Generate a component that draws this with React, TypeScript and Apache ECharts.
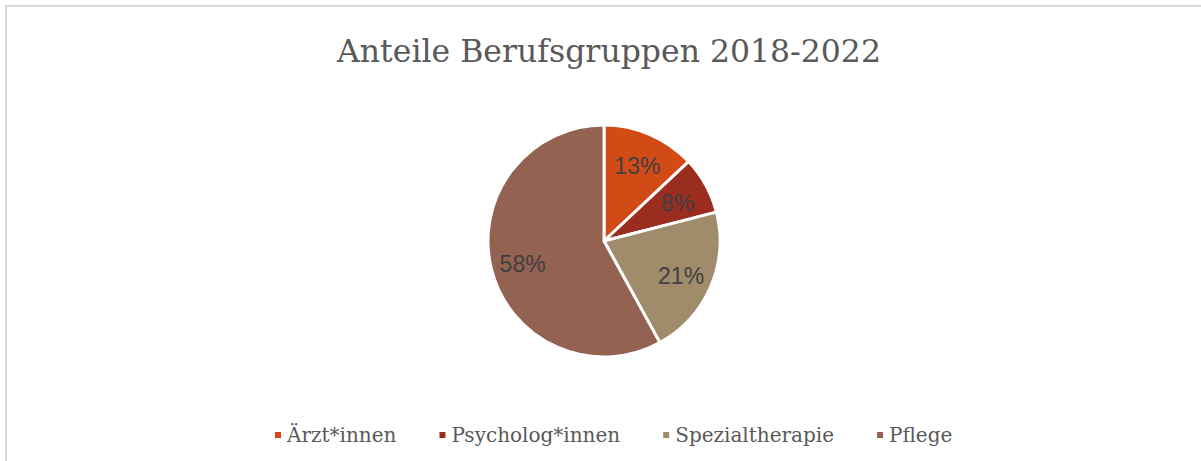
import React, { useEffect, useRef } from "react";
import * as echarts from "echarts";

const categories = ["Ärzt*innen", "Psycholog*innen", "Spezialtherapie", "Pflege"];
const shares = [13, 8, 21, 58];
const colors = ["#D24B17", "#9B2D1F", "#A08B6A", "#946250"];
const titleText = "Anteile Berufsgruppen 2018-2022";

export default function App() {
  const ref = useRef<HTMLDivElement>(null);
  useEffect(() => {
    if (!ref.current) return;
    const chart = echarts.init(ref.current, null, { renderer: "svg" });
    const data = categories.map((name, i) => ({ name, value: shares[i] }));
    chart.setOption({
      animation: false,
      backgroundColor: "#ffffff",
      color: colors,
      title: {
        text: titleText,
        left: 604,
        textAlign: "center",
        top: 30,
        textStyle: {
          fontFamily: "DejaVu Serif",
          fontSize: 31.5,
          fontWeight: "normal",
          color: "#595959",
        },
      },
      legend: {
        data: categories,
        left: 268,
        top: 420,
        icon: "rect",
        itemWidth: 8,
        itemHeight: 8,
        itemGap: 41,
        textStyle: {
          fontFamily: "DejaVu Serif",
          fontSize: 20,
          color: "#595959",
        },
      },
      graphic: [
        {
          type: "rect",
          shape: { x: 6, y: 6, width: 1200, height: 460 },
          style: { fill: "none", stroke: "#d9d9d9", lineWidth: 2 },
          silent: true,
          z: -1,
        },
      ],
      series: [
        {
          type: "pie",
          center: [604, 241],
          radius: [0, 116],
          startAngle: 90,
          clockwise: true,
          label: { show: false },
          labelLine: { show: false },
          itemStyle: { borderColor: "#ffffff", borderWidth: 3 },
          emphasis: { disabled: true },
          data,
        },
        {
          type: "pie",
          center: [604, 243],
          radius: [0, 162],
          startAngle: 90,
          clockwise: true,
          silent: true,
          legendHoverLink: false,
          itemStyle: { color: "rgba(0,0,0,0)", borderWidth: 0 },
          label: {
            show: true,
            position: "inside",
            formatter: (p: any) => `${p.value}%`,
            fontFamily: "Liberation Sans",
            fontSize: 23,
            color: "#404040",
          },
          labelLine: { show: false },
          emphasis: { disabled: true },
          data,
          z: 3,
        },
      ],
    });
    return () => chart.dispose();
  }, []);
  return (
    <div
      ref={ref}
      style={{ position: "fixed", left: 0, top: 0, width: 1201, height: 461 }}
    />
  );
}
